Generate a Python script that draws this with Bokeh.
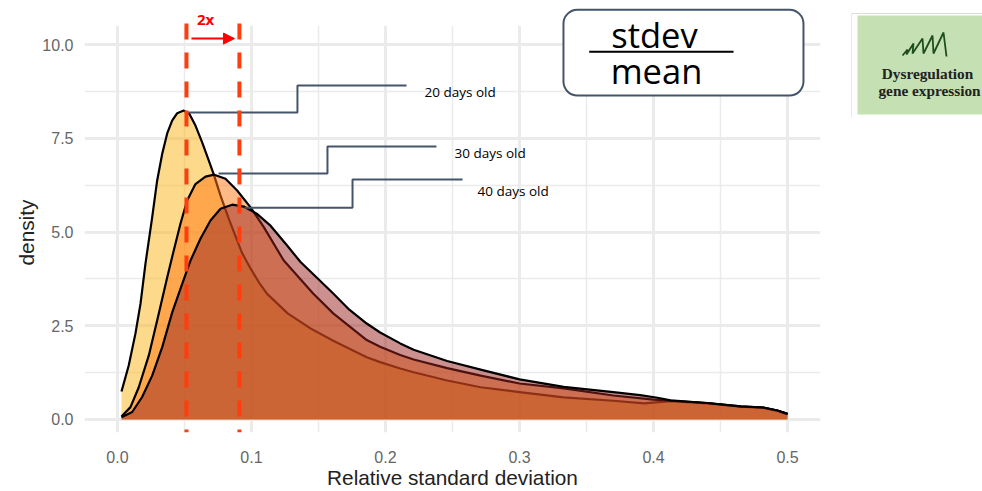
from bokeh.plotting import figure
from bokeh.embed import file_html
from bokeh.resources import INLINE
from bokeh.layouts import row
from bokeh.core.properties import value
from bokeh.models import (Range1d, FixedTicker, BoxAnnotation, Label, Arrow, NormalHead, Title)

# ---- curves ----
x20 = [.003,.0084,.0134,.0172,.0209,.0259,.0296,.0334,.0371,.0408,.0446,.0495,.0537,.0582,.0632,.0681,.0719,.0769,.0831,.0893,.093,.0993,.1055,.1117,.127,.144,.161,.186,.196,.211,.221,.246,.271,.3,.333,.37,.393,.4127,.44,.465,.482,.4925,.5]
y20 = [.747,1.44,2.29,3.09,4.16,5.39,6.37,7.09,7.63,7.97,8.17,8.24,8.15,7.84,7.39,6.91,6.53,5.97,5.35,4.78,4.44,4.03,3.66,3.35,2.83,2.43,2.1,1.66,1.53,1.36,1.26,1.04,.86,.73,.59,.5,.43,.49,.43,.34,.31,.23,.14]

x30 = [.003,.0097,.0159,.0234,.0308,.0371,.042,.047,.052,.0582,.0657,.0722,.0806,.0893,.0993,.1092,.1241,.146,.161,.186,.196,.211,.221,.246,.271,.3,.333,.37,.4,.4127,.44,.465,.482,.4925,.5]
y30 = [.08,.33,.86,1.71,2.82,3.79,4.51,5.22,5.84,6.28,6.48,6.53,6.42,6.11,5.66,5.13,4.24,3.36,2.83,2.12,1.94,1.72,1.6,1.37,1.17,.96,.83,.64,.53,.5,.44,.35,.32,.24,.15]

x40 = [.003,.011,.0184,.0259,.0334,.0408,.0483,.0545,.0619,.0694,.0769,.0856,.0943,.1043,.1142,.1266,.1366,.15,.161,.173,.186,.196,.211,.221,.246,.271,.3,.333,.37,.39,.403,.4127,.44,.465,.482,.4925,.5]
y40 = [.06,.2,.6,1.17,1.93,2.85,3.62,4.24,4.82,5.31,5.62,5.73,5.68,5.48,5.17,4.64,4.2,3.74,3.36,2.93,2.56,2.32,2.03,1.86,1.56,1.33,1.07,.87,.73,.65,.58,.51,.44,.35,.32,.24,.15]

fills = ["#fbb417", "#ff750f", "#9a2320"]

x_ticks = [0.0, 0.1, 0.2, 0.3, 0.4, 0.5]
x_minor = [0.05, 0.15, 0.25, 0.35, 0.45]
y_ticks = [0.0, 2.5, 5.0, 7.5, 10.0]
y_minor = [1.25, 3.75, 6.25, 8.75]

dash_x = [0.0515, 0.091]
arrow_x = [0.0552, 0.0873]
arrow_y = 10.16

call_x = [[.0515,.1343,.1343,.2157], [.0754,.1567,.1567,.238], [.0948,.1754,.1754,.2575]]
call_y = [[8.19,8.19,8.91,8.91], [6.56,6.56,7.28,7.28], [5.65,5.65,6.4,6.4]]
call_text = ["20 days old", "30 days old", "40 days old"]
call_tx = [.2291, .2515, .2687]
call_ty = [8.73, 7.12, 6.1]

Y_BOTTOM, Y_TOP = -0.347, 10.99

p = figure(width=828, height=491, output_backend="svg", toolbar_location=None,
           x_range=Range1d(-0.0246, 0.5246), y_range=Range1d(Y_BOTTOM, Y_TOP),
           min_border_left=84, min_border_right=8, min_border_top=7, min_border_bottom=59,
           x_axis_label="Relative standard deviation")
p.outline_line_color = None
p.background_fill_color = "white"
p.xaxis.ticker = FixedTicker(ticks=x_ticks, minor_ticks=x_minor)
p.yaxis.ticker = FixedTicker(ticks=y_ticks, minor_ticks=y_minor)
p.xaxis.major_label_overrides = {v: f"{v:.1f}" for v in x_ticks}
p.yaxis.major_label_overrides = {v: f"{v:.1f}" for v in y_ticks}
for ax in (p.xaxis[0], p.yaxis[0]):
    ax.axis_line_color = None
    ax.major_tick_line_color = None
    ax.minor_tick_line_color = None
    ax.major_label_text_font = "Liberation Sans"
    ax.major_label_text_font_size = "16px"
    ax.major_label_text_color = "#666666"
    ax.axis_label_text_font = "Liberation Sans"
    ax.axis_label_text_font_size = "20.8px"
    ax.axis_label_text_font_style = "normal"
    ax.axis_label_text_color = "#222222"
p.xaxis.major_label_standoff = 12
p.xaxis.axis_label_standoff = 0
p.yaxis.major_label_standoff = 5
for g in (p.xgrid[0], p.ygrid[0]):
    g.grid_line_color = "#ebebeb"
    g.grid_line_width = 3
    g.minor_grid_line_color = "#ebebeb"
    g.minor_grid_line_width = 1.5

# y title, centred on the panel rather than on the taller frame
p.add_layout(Title(text="density", align="left", offset=167, text_font="Liberation Sans",
                   text_font_size="20.8px", text_font_style="normal", text_color="#222222",
                   standoff=3), "left")

# the panel's grid starts a little below the top of the frame
p.quad(left=[-0.0246], right=[0.5246], bottom=[10.5], top=[Y_TOP], fill_color="white", line_color=None)

for xs, ys, c in zip((x20, x30, x40), (y20, y30, y40), fills):
    p.varea(x=xs, y1=[0] * len(xs), y2=ys, fill_color=c, fill_alpha=0.5)
    p.line(xs, ys, line_color="black", line_width=2.2, line_join="round")

for xs, ys in zip(call_x, call_y):
    p.line(xs, ys, line_color="#44546a", line_width=2)
p.text(call_tx, call_ty, text=call_text, text_font=value("Open Sans"), text_font_size="13.5px",
       text_color="black", text_baseline="middle", text_align="left")

for dx in dash_x:
    p.line([dx, dx], [10.56, Y_BOTTOM], line_color="#ff3d0d", line_width=4, line_dash="16 13")

p.add_layout(Arrow(x_start=arrow_x[0], x_end=arrow_x[1], y_start=arrow_y, y_end=arrow_y,
                   line_color="#ff0000", line_width=2,
                   end=NormalHead(size=11, fill_color="#ff0000", line_color="#ff0000")))
p.add_layout(Label(x=.0657, y=10.67, text="2x", text_color="#ff0000", text_font="Open Sans",
                   text_font_size="15px", text_font_style="bold",
                   text_align="center", text_baseline="middle"))

# formula box
p.add_layout(BoxAnnotation(left=.3328, right=.5119, bottom=8.64, top=10.93,
                           fill_color="white", fill_alpha=1, line_color="#44546a", line_alpha=1,
                           line_width=2, border_radius=14))
p.line([.352, .4597], [9.81, 9.81], line_color="black", line_width=2, level="overlay")
p.add_layout(Label(x=.4007, y=10.28, text="stdev", text_font="Open Sans", text_font_size="34.5px",
                   text_color="black", text_align="center", text_baseline="middle", level="overlay"))
p.add_layout(Label(x=.4022, y=9.3, text="mean", text_font="Open Sans", text_font_size="34.5px",
                   text_color="black", text_align="center", text_baseline="middle", level="overlay"))

# inset picture, drawn on its own pixel-sized scale
zig_x = [902,907,906,913,912,922,923,932,933,943,946]
zig_y = [55,49,54,43,53,38,53,35,53,32,56]
inset_text = ["Dysregulation", "gene expression"]
inset_tx = [927, 929]
inset_ty = [73, 90]

q = figure(width=154, height=491, output_backend="svg", toolbar_location=None,
           x_range=Range1d(851, 982), y_range=Range1d(432, 7),
           min_border_left=23, min_border_right=0, min_border_top=7, min_border_bottom=59,
           x_axis_location=None, y_axis_location=None)
q.grid.visible = False
q.outline_line_color = None
q.quad(left=[857], right=[982], top=[15], bottom=[114], fill_color="#c5e0b3", line_color=None)
q.line([851, 851], [13, 117], line_color="#cfcfcf", line_width=1)
q.line([851, 982], [13, 13], line_color="#dddddd", line_width=1)
q.line(zig_x, zig_y, line_color="#1e4d1e", line_width=1.8)
q.text(inset_tx, inset_ty, text=inset_text, text_font=value("Liberation Serif"), text_font_size="15.3px",
       text_font_style="bold", text_color="#222222", text_align="center", text_baseline="middle")

open("out.html", "w").write(file_html(row(p, q), INLINE))
